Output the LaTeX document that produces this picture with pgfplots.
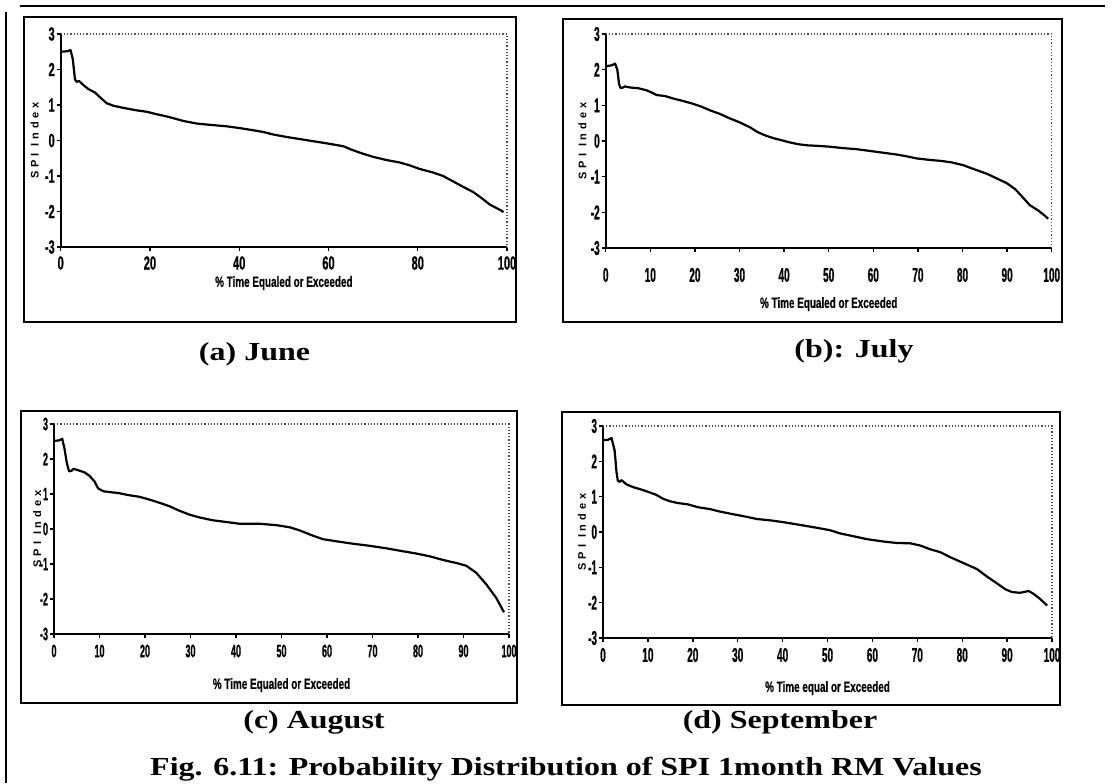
\documentclass[border=0pt]{standalone}
\usepackage{fontspec}
\setmainfont{Liberation Serif}
\usepackage{pgfplots}
\pgfplotsset{compat=1.18}
\newfontfamily\tickfontA[FakeStretch=0.58,FakeBold=0.8]{Liberation Sans}
\newfontfamily\tickfontB[FakeStretch=0.5,FakeBold=0.8]{Liberation Sans}
\newfontfamily\xlabfont[FakeStretch=0.66,FakeBold=0.5]{Liberation Sans}
\newfontfamily\ylabfont[LetterSpace=35]{Liberation Sans}
\newfontfamily\capfont[FakeStretch=1.23]{Liberation Serif}

\tikzset{
frameline/.style={densely dotted, gray!60!black, line width=0.6pt},
curve/.style={black, line width=1.1pt, line join=round}
}
\pgfplotsset{spi/.style={
  scale only axis, xmin=0, xmax=100, ymin=-3, ymax=3,
  ytick={-3,-2,-1,0,1,2,3},
  axis x line*=bottom, axis y line*=left,
  axis line style={-, line width=0.8pt, black},
  tick align=outside, major tick length=2pt,
  every tick/.style={black, line width=0.7pt},
  /pgf/number format/assume math mode=true,
  tick label style={inner sep=0pt},
  yticklabel style={anchor=east, xshift=-0.8pt},
  xticklabel style={anchor=center},
  xlabel style={font=\xlabfont\bfseries\fontsize{7.5}{8}\selectfont, anchor=center, inner sep=0pt},
  ylabel style={font=\ylabfont\bfseries\fontsize{5.5}{6}\selectfont, anchor=center, inner sep=0pt},
  ylabel={SPI Index},
  clip=false,
}}

\begin{document}
\begin{tikzpicture}[x=0.5pt,y=-0.5pt]
\useasboundingbox (0,0) rectangle (1112,783);
\coordinate (PA) at (60.7,247);
\coordinate (PB) at (605.7,248);
\coordinate (PC) at (54,634);
\coordinate (PD) at (603,638);
% page frame
\draw[line width=0.9pt] (20,6) -- (1105,6);
\draw[line width=0.8pt] (6,12) -- (6,783);
% panel boxes
\draw[line width=0.7pt] (24,17) rectangle (516,322);
\draw[line width=0.7pt] (563,19) rectangle (1062,322);
\draw[line width=0.7pt] (21,411) rectangle (517,703);
\draw[line width=0.7pt] (562,412) rectangle (1060,705);

% (a) June
\begin{axis}[spi, at={(PA)}, anchor=south west,
  width=223.15pt, height=106.5pt,
  xtick={0,20,40,60,80,100},
  tick label style={font=\tickfontA\bfseries\fontsize{9.5}{10}\selectfont},
  xticklabel style={yshift=-6pt},
  xlabel={\% Time Equaled  or Exceeded},
  xlabel style={at={(axis description cs:0.5,-0.169)}},
  ylabel style={at={(axis description cs:-0.058,0.5)}}]
\draw[frameline] (rel axis cs:0,1) -- (rel axis cs:1,1) -- (rel axis cs:1,0);
\addplot[curve] coordinates {
(0,2.50)(1.0,2.51)(1.7,2.52)(2.2,2.55)(2.7,2.3)(3.2,1.72)(3.6,1.65)(4.1,1.68)
(5.1,1.56)(6.2,1.45)(7.7,1.35)(8.8,1.22)(10.3,1.05)(11.8,0.98)(14,0.92)(17,0.85)
(19.3,0.81)(21.5,0.74)(23.7,0.68)(25.2,0.63)(27.5,0.55)(30.4,0.48)(32.7,0.45)
(37.2,0.40)(40.1,0.35)(43.1,0.29)(45.4,0.24)(47.6,0.17)(50.6,0.10)(53.6,0.04)
(56.6,-0.02)(59.6,-0.08)(63.3,-0.16)(65.2,-0.26)(67.2,-0.35)(70,-0.46)(73,-0.55)
(76,-0.62)(78.2,-0.70)(80.4,-0.80)(83.4,-0.90)(85.7,-1.00)(87.9,-1.15)(90.1,-1.30)
(92.4,-1.45)(94.3,-1.62)(96.1,-1.80)(97.6,-1.90)(98.8,-1.98)(99.2,-2.02)};
\end{axis}

% (b) July
\begin{axis}[spi, at={(PB)}, anchor=south west,
  width=223pt, height=107pt,
  xtick={0,10,...,100},
  tick label style={font=\tickfontB\bfseries\fontsize{10}{11}\selectfont},
  xticklabel style={yshift=-11.5pt},
  xlabel={\% Time Equaled or Exceeded},
  xlabel style={at={(axis description cs:0.5,-0.262)}},
  ylabel style={at={(axis description cs:-0.052,0.5)}}]
\draw[frameline] (rel axis cs:0,1) -- (rel axis cs:1,1) -- (rel axis cs:1,0);
\addplot[curve] coordinates {
(0,2.1)(1.3,2.12)(2.1,2.17)(2.6,2.0)(3.0,1.6)(3.3,1.49)(3.7,1.49)(4.3,1.53)
(5.5,1.5)(7.3,1.48)(9.2,1.42)(10.3,1.36)(11.4,1.29)(13.3,1.26)(15.2,1.19)
(17.4,1.12)(19.7,1.04)(21.5,0.96)(23.4,0.86)(25.6,0.76)(27.9,0.63)(30.1,0.52)
(32.4,0.38)(33.9,0.26)(35.7,0.16)(37.6,0.08)(39.8,0.01)(41.3,-0.04)(43.2,-0.09)
(45.1,-0.12)(48,-0.14)(50.3,-0.16)(53.3,-0.2)(56.3,-0.23)(59.3,-0.28)(62.3,-0.33)
(65.3,-0.38)(67.5,-0.43)(69.8,-0.49)(72.7,-0.53)(75.3,-0.56)(77.6,-0.60)
(80.2,-0.68)(82.8,-0.80)(85.5,-0.92)(87.7,-1.05)(89.9,-1.18)(91.8,-1.35)
(93.3,-1.55)(95.1,-1.80)(97,-1.95)(98.5,-2.1)(99.2,-2.18)};
\end{axis}

% (c) August
\begin{axis}[spi, at={(PC)}, anchor=south west,
  width=227.5pt, height=105pt,
  xtick={0,10,...,100},
  tick label style={font=\tickfontB\bfseries\fontsize{9}{10}\selectfont},
  xticklabel style={yshift=-6.5pt},
  xlabel={\% Time Equaled or Exceeded},
  xlabel style={at={(axis description cs:0.5,-0.243)}},
  ylabel style={at={(axis description cs:-0.037,0.5)}}]
\draw[frameline] (rel axis cs:0,1) -- (rel axis cs:1,1) -- (rel axis cs:1,0);
\addplot[curve] coordinates {
(0,2.52)(1.1,2.53)(1.8,2.58)(2.3,2.3)(2.8,1.9)(3.3,1.65)(3.8,1.66)(4.3,1.72)
(5.3,1.68)(6.7,1.62)(7.8,1.52)(8.9,1.36)(9.7,1.16)(10.8,1.08)(12.6,1.05)
(14.1,1.03)(16.3,0.97)(18.8,0.92)(21,0.84)(23.2,0.75)(25.4,0.65)(27.6,0.52)
(29.8,0.41)(32,0.33)(34.9,0.25)(37.9,0.2)(40.8,0.15)(45.2,0.15)(48.9,0.11)
(51.8,0.05)(54,-0.04)(56.9,-0.19)(59.1,-0.29)(62,-0.35)(65.7,-0.42)(69.4,-0.48)
(73,-0.55)(76,-0.62)(79.6,-0.70)(82.6,-0.78)(84.8,-0.86)(87,-0.93)(88.4,-0.97)
(90.6,-1.05)(92.8,-1.25)(95,-1.58)(97.2,-1.97)(98.9,-2.38)};
\end{axis}

% (d) September
\begin{axis}[spi, at={(PD)}, anchor=south west,
  width=224.5pt, height=106pt,
  xtick={0,10,...,100},
  tick label style={font=\tickfontB\bfseries\fontsize{10}{11}\selectfont},
  xticklabel style={yshift=-6.5pt},
  xlabel={\% Time equal or Exceeded},
  xlabel style={at={(axis description cs:0.5,-0.236)}},
  ylabel style={at={(axis description cs:-0.047,0.5)}}]
\draw[frameline] (rel axis cs:0,1) -- (rel axis cs:1,1) -- (rel axis cs:1,0);
\addplot[curve] coordinates {
(0,2.6)(1.1,2.61)(1.9,2.66)(2.6,2.3)(3.0,1.7)(3.3,1.45)(3.7,1.42)(4.1,1.47)
(5.2,1.35)(6.7,1.27)(8.6,1.2)(10.4,1.12)(11.9,1.05)(13.4,0.94)(14.9,0.87)
(16.7,0.82)(19,0.78)(21.2,0.70)(23.8,0.65)(26,0.58)(28.3,0.52)(31.2,0.45)
(34.2,0.37)(37.9,0.32)(40.1,0.28)(43.9,0.2)(47.6,0.12)(50.6,0.05)(52.8,-0.04)
(55.8,-0.12)(58.7,-0.2)(62.5,-0.27)(65.4,-0.31)(68.4,-0.32)(70.6,-0.38)
(72.9,-0.49)(75.1,-0.57)(77.3,-0.71)(80.3,-0.88)(83.3,-1.05)(85.5,-1.26)
(87.7,-1.45)(89.6,-1.62)(91.1,-1.70)(92.9,-1.72)(94.8,-1.67)(95.9,-1.75)
(97.4,-1.9)(98.9,-2.08)};
\end{axis}

% captions
\node[anchor=base, font=\capfont\bfseries\fontsize{13}{15}\selectfont] at (254.5,360) {(a) June};
\node[anchor=base, font=\capfont\bfseries\fontsize{13}{15}\selectfont] at (854,357) {(b): July};
\node[anchor=base, font=\capfont\bfseries\fontsize{13}{15}\selectfont] at (314,728) {(c) August};
\node[anchor=base, font=\capfont\bfseries\fontsize{13}{15}\selectfont] at (780,728) {(d) September};
\node[anchor=base, font=\capfont\bfseries\fontsize{13}{15}\selectfont] at (566,775) {Fig. 6.11: Probability Distribution of SPI 1month RM Values};
\end{tikzpicture}
\end{document}
